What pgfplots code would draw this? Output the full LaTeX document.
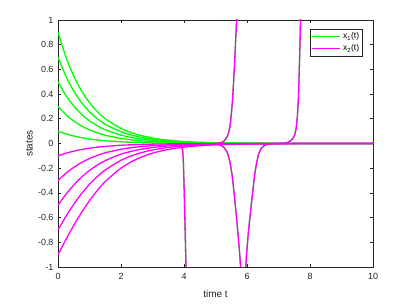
\documentclass[border=0pt]{standalone}
\usepackage{pgfplots}
\pgfplotsset{compat=1.18}
\usepackage{pgfplotstable}
\usepackage{fontspec}
\setmainfont{Liberation Sans}
\definecolor{mygreen}{RGB}{0,255,0}
\definecolor{mymag}{RGB}{255,0,255}
\definecolor{axcol}{RGB}{38,38,38}

\pgfplotstableread{
t g9 g7 g5 g3 g1 m9 m7 m5 m3 m1
0 0.9 0.7 0.5 0.3 0.1 -0.9 -0.7 -0.5 -0.3 -0.1
0.25 0.7009 0.5452 0.3894 0.2336 0.0779 -0.7784 -0.5909 -0.4122 -0.2416 -0.0788
0.5 0.5459 0.4246 0.3033 0.1820 0.0607 -0.6634 -0.4924 -0.3364 -0.1934 -0.0619
0.75 0.4252 0.3307 0.2362 0.1417 0.0472 -0.5575 -0.4056 -0.2721 -0.1539 -0.0485
1 0.3311 0.2575 0.1840 0.1104 0.0368 -0.4627 -0.3307 -0.2185 -0.1219 -0.0380
1.25 0.2579 0.2006 0.1433 0.0860 0.0287 -0.3798 -0.2673 -0.1744 -0.0963 -0.0297
1.5 0.2008 0.1562 0.1116 0.0669 0.0223 -0.3087 -0.2145 -0.1385 -0.0757 -0.0232
2 0.1218 0.0947 0.0677 0.0406 0.0135 -0.1994 -0.1358 -0.0864 -0.0466 -0.0141
2.5 0.0739 0.0575 0.0411 0.0246 0.0082 -0.1259 -0.0847 -0.0533 -0.0285 -0.0086
3 0.0448 0.0349 0.0249 0.0149 0.0050 -0.0783 -0.0523 -0.0327 -0.0174 -0.0052
3.5 0.0272 0.0211 0.0151 0.0091 0.0030 -0.0482 -0.0320 -0.0199 -0.0106 -0.0032
4 0.0165 0.0128 0.0092 0.0055 0.0018 -0.0295 -0.0195 -0.0121 -0.0064 -0.0019
4.5 0.0100 0.0078 0.0056 0.0033 0.0011 -0.0180 -0.0119 -0.0074 -0.0039 -0.0012
5 0.0060 0.0047 0.0034 0.0020 0.0007 -0.0109 -0.0072 -0.0045 -0.0024 -0.0007
6 0.0023 0.0018 0.0013 0.0008 0.0003 -0.0041 -0.0027 -0.0017 -0.0009 -0.0003
7 0.0008 0.0006 0.0005 0.0003 0.0001 -0.0015 -0.0010 -0.0006 -0.0003 -0.0001
8 0.0003 0.0002 0.0002 0.0001 0 -0.0005 -0.0003 -0.0002 -0.0001 0
10 0 0 0 0 0 0 0 0 0 0
}\decay

\pgfplotstableread{
t y
3.80 -0.003
3.88 -0.012
3.93 -0.03
3.96 -0.06
3.98 -0.15
4.00 -0.32
4.02 -0.52
4.04 -0.74
4.06 -0.96
4.07 -1.1
}\downfour

\pgfplotstableread{
t y
5.00 0.001
5.14 0.004
5.25 0.015
5.32 0.035
5.37 0.055
5.42 0.09
5.46 0.136
5.50 0.23
5.54 0.35
5.57 0.48
5.60 0.62
5.63 0.78
5.65 0.89
5.67 1.0
5.69 1.12
}\upfive

\pgfplotstableread{
t y
5.00 -0.002
5.15 -0.012
5.28 -0.035
5.38 -0.075
5.46 -0.15
5.53 -0.26
5.59 -0.40
5.65 -0.55
5.71 -0.72
5.77 -0.90
5.81 -1.05
5.88 -1.5
5.95 -1.05
5.98 -0.92
6.04 -0.73
6.10 -0.58
6.15 -0.46
6.20 -0.35
6.25 -0.24
6.31 -0.15
6.37 -0.085
6.45 -0.04
6.55 -0.017
6.65 -0.007
6.80 -0.001
7.00 0
}\vee

\pgfplotstableread{
t y
7.00 0.0005
7.20 0.003
7.30 0.01
7.40 0.025
7.47 0.045
7.52 0.075
7.56 0.12
7.60 0.22
7.63 0.35
7.66 0.6
7.68 0.78
7.70 1.0
7.72 1.15
}\upseven

\begin{document}
\begin{tikzpicture}
\path (0,0) rectangle (411bp,306bp);
\begin{axis}[
  at={(58bp,39bp)}, anchor=south west,
  scale only axis, width=315bp, height=247bp,
  xmin=0, xmax=10, ymin=-1, ymax=1,
  xtick={0,2,4,6,8,10},
  xticklabels={0,2,4,6,8,10},
  ytick={-1,-0.8,-0.6,-0.4,-0.2,0,0.2,0.4,0.6,0.8,1},
  yticklabels={-1,-0.8,-0.6,-0.4,-0.2,0,0.2,0.4,0.6,0.8,1},
  xtick pos=both, ytick pos=both,
  tick align=inside, major tick length=3.3bp,
  every tick/.style={axcol, line width=0.6bp},
  axis line style={axcol, line width=0.6bp},
  tick label style={font=\fontsize{9}{10}\selectfont, text=axcol},
  xticklabel style={yshift=-2.5bp},
  yticklabel style={xshift=-1bp},
  xlabel={time t}, ylabel={states},
  label style={font=\fontsize{10}{12}\selectfont, text=axcol},
  xlabel style={at={(axis description cs:0.5,-0.109)}, anchor=center},
  ylabel style={at={(axis description cs:-0.0905,0.5)}, anchor=center},
  legend style={at={(0.968,0.964)}, anchor=north east, draw=axcol, line width=0.6bp,
    font=\fontsize{8.5}{10}\selectfont, inner xsep=1.5bp, inner ysep=1.5bp,
    row sep=0.5bp, cells={anchor=west}},
  legend image code/.code={\draw[#1] (0bp,0bp) -- (28bp,0bp);},
  every axis plot/.append style={line width=1.3bp},
]
\addplot[mygreen, smooth] table[x=t, y=g9] {\decay};
\addlegendentry{x\textsubscript{1}(t)}
\addplot[mygreen, smooth, forget plot] table[x=t, y=g7] {\decay};
\addplot[mygreen, smooth, forget plot] table[x=t, y=g5] {\decay};
\addplot[mygreen, smooth, forget plot] table[x=t, y=g3] {\decay};
\addplot[mygreen, smooth, forget plot] table[x=t, y=g1] {\decay};
\addplot[mygreen, forget plot] table[x=t, y=y] {\downfour};
\addplot[mygreen, forget plot] table[x=t, y=y] {\upfive};
\addplot[mygreen, forget plot] table[x=t, y=y] {\vee};
\addplot[mygreen, forget plot] table[x=t, y=y] {\upseven};
\addplot[mymag, smooth] table[x=t, y=m9] {\decay};
\addlegendentry{x\textsubscript{2}(t)}
\addplot[mymag, smooth, forget plot] table[x=t, y=m7] {\decay};
\addplot[mymag, smooth, forget plot] table[x=t, y=m5] {\decay};
\addplot[mymag, smooth, forget plot] table[x=t, y=m3] {\decay};
\addplot[mymag, smooth, forget plot] table[x=t, y=m1] {\decay};
\addplot[mymag, forget plot] table[x=t, y=y] {\downfour};
\addplot[mymag, forget plot] table[x=t, y=y] {\upfive};
\addplot[mymag, forget plot] table[x=t, y=y] {\vee};
\addplot[mymag, forget plot] table[x=t, y=y] {\upseven};
\end{axis}
\end{tikzpicture}
\end{document}
